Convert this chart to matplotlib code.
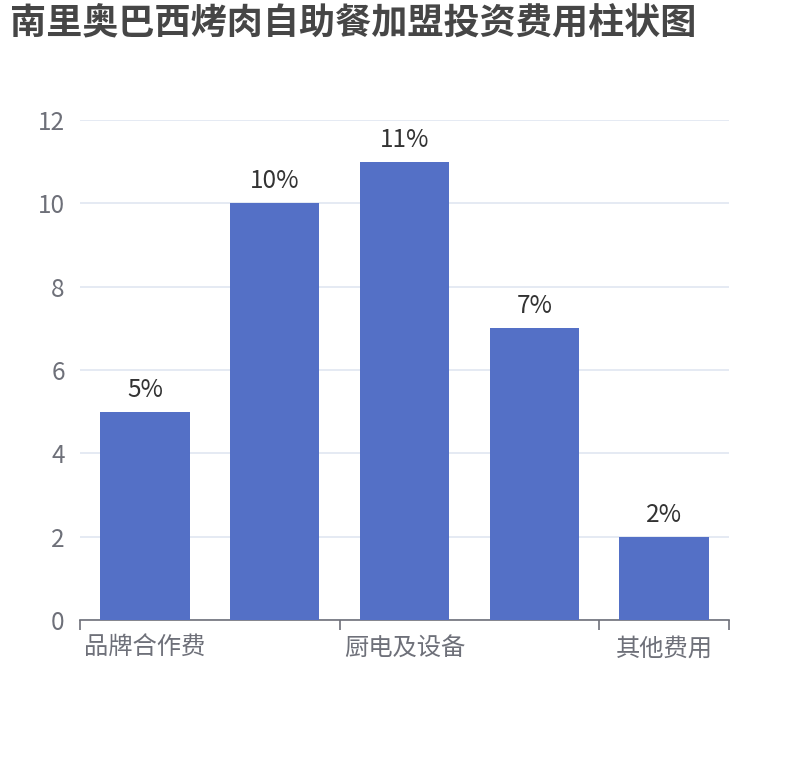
import matplotlib
matplotlib.use("Agg")
import matplotlib.pyplot as plt
import numpy as np

plt.rcParams['font.family'] = ['Noto Sans CJK SC', 'DejaVu Sans']

title = "南里奥巴西烤肉自助餐加盟投资费用柱状图"
categories = ["品牌合作费", "店面装修费", "厨电及设备", "首批原料费", "其他费用"]
values = [5, 10, 11, 7, 2]
bar_labels = ["5%", "10%", "11%", "7%", "2%"]
yticks = [0, 2, 4, 6, 8, 10, 12]

W, H = 810, 760
fig = plt.figure(figsize=(W / 100, H / 100), dpi=100)
left, right, top, bottom = 80, 729, 120, 620
ax = fig.add_axes([left / W, 1 - bottom / H, (right - left) / W, (bottom - top) / H])

x = np.arange(len(categories))
ax.bar(x, values, width=0.69, color='#5470c6', zorder=3)
for xi, v, lab in zip(x, values, bar_labels):
    ax.annotate(lab, (xi, v), xytext=(0, 9), textcoords='offset pixels',
                ha='center', va='bottom', fontsize=17.5, color='#333333')

ax.set_xlim(-0.5, len(categories) - 0.5)
ax.set_ylim(0, 12)
ax.set_yticks(yticks)
ax.set_yticklabels([str(t) for t in yticks])
ax.yaxis.grid(True, color='#e0e6f1', linewidth=1.2, zorder=0)
ax.tick_params(axis='y', length=0, pad=11, labelsize=17.5, labelcolor='#6e7079')

# category labels shown every other category, like the reference
ax.set_xticks(x[::2])
ax.set_xticklabels([categories[i] for i in x[::2]])
ax.tick_params(axis='x', length=0, pad=11, labelsize=17.5, labelcolor='#6e7079')
# boundary ticks
bounds = [-0.5, 1.5, 3.5, 4.5]
ax.set_xticks(bounds, minor=True)
ax.tick_params(axis='x', which='minor', length=7, width=1.2, color='#6e7079', direction='out')

for s in ['top', 'right', 'left']:
    ax.spines[s].set_visible(False)
ax.spines['bottom'].set_color('#6e7079')
ax.spines['bottom'].set_linewidth(1.2)

fig.text(10 / W, 1 - 24 / H, title, fontsize=26, fontweight='bold', color='#464646',
         ha='left', va='center')

fig.savefig('out.png', dpi=100)
